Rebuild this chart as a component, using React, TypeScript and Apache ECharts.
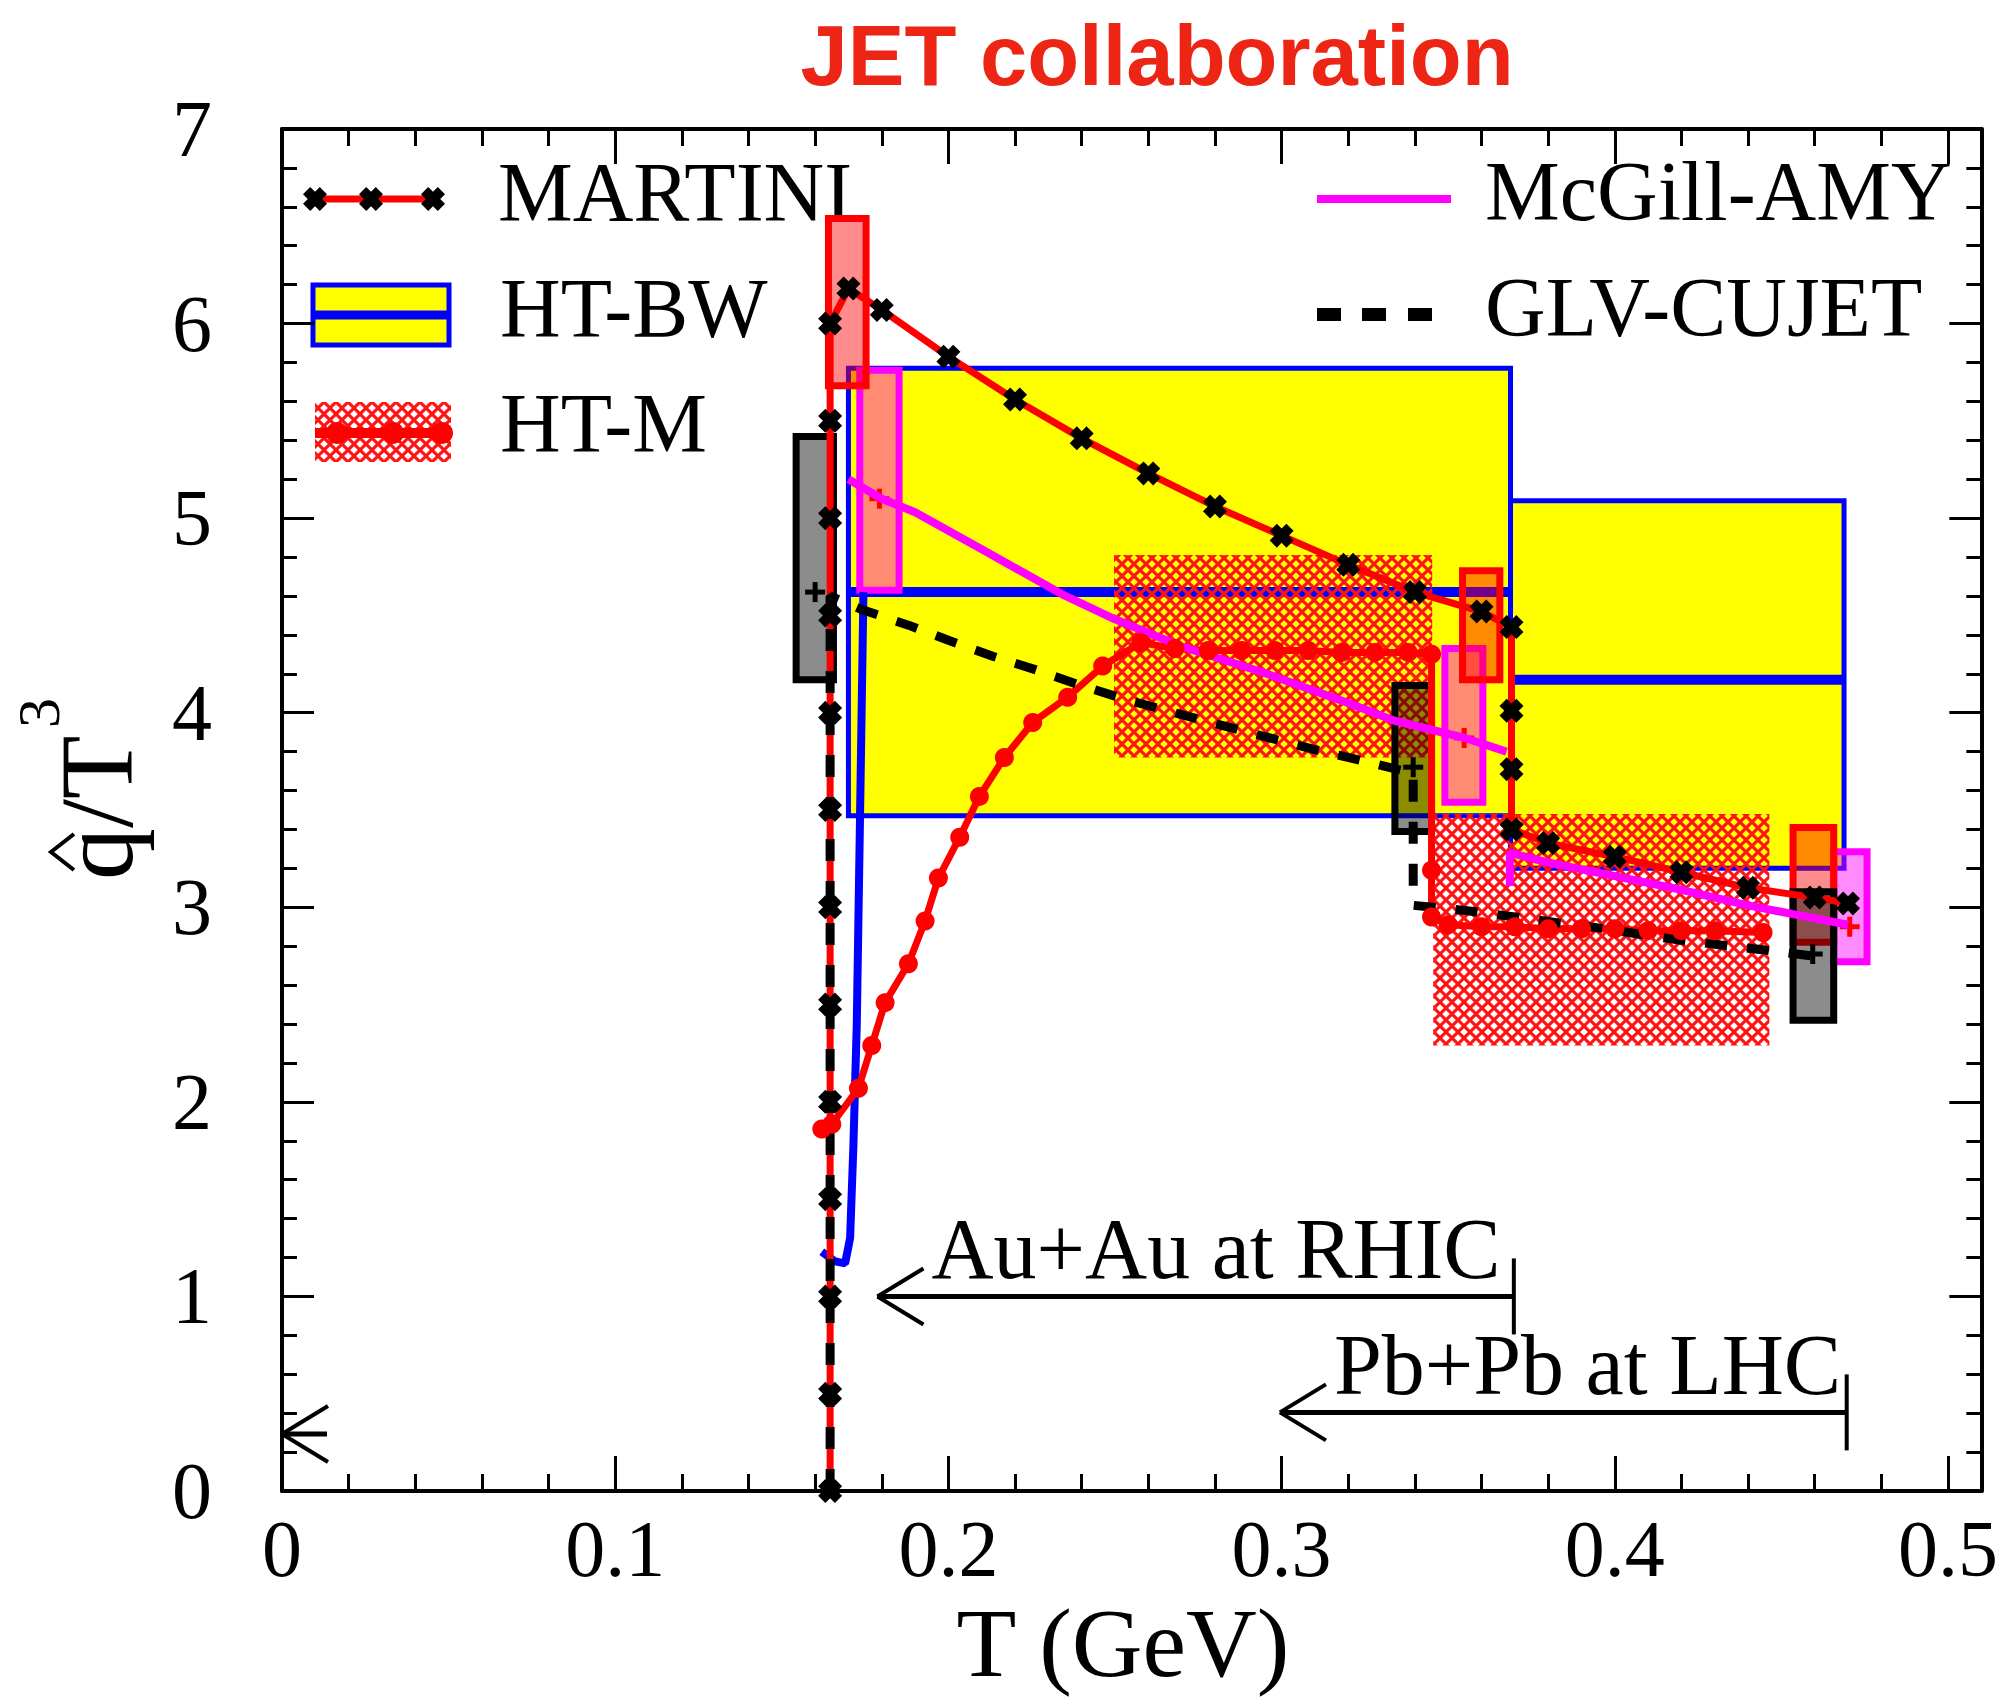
import React, { useEffect, useRef } from "react";
import * as echarts from "echarts";

// ---------------- data ----------------
const X_TICKS = [0, 0.1, 0.2, 0.3, 0.4, 0.5];
const Y_TICKS = [0, 1, 2, 3, 4, 5, 6, 7];

// MARTINI (red line, black X markers)
const MARTINI_T = [0.1645, 0.1645, 0.1645, 0.1645, 0.1645, 0.1645, 0.1645, 0.1645, 0.1645, 0.1645, 0.1645, 0.1645, 0.1645,
  0.170, 0.180, 0.200, 0.220, 0.240, 0.260, 0.280, 0.300, 0.320, 0.340, 0.360, 0.369, 0.369, 0.369, 0.369,
  0.380, 0.400, 0.420, 0.440, 0.460, 0.470];
const MARTINI_Q = [0, 0.5, 1, 1.5, 2, 2.5, 3, 3.5, 4, 4.5, 5, 5.5, 6.0,
  6.18, 6.07, 5.83, 5.61, 5.41, 5.23, 5.06, 4.91, 4.76, 4.62, 4.52, 4.44, 4.01, 3.71, 3.40,
  3.33, 3.26, 3.18, 3.10, 3.05, 3.02];

// HT-M (red line with circles)
const HTM_T = [0.162, 0.165, 0.173, 0.177, 0.181, 0.188, 0.193, 0.197, 0.2034, 0.2093, 0.2168, 0.2253, 0.2358, 0.2463, 0.2577,
  0.268, 0.278, 0.288, 0.298, 0.308, 0.318, 0.328, 0.338, 0.345, 0.345, 0.345,
  0.350, 0.360, 0.370, 0.380, 0.390, 0.400, 0.410, 0.420, 0.430, 0.4445];
const HTM_Q = [1.86, 1.885, 2.07, 2.29, 2.51, 2.71, 2.93, 3.15, 3.36, 3.57, 3.77, 3.95, 4.08, 4.24, 4.36,
  4.33, 4.32, 4.32, 4.32, 4.32, 4.31, 4.31, 4.31, 4.30, 3.19, 2.95,
  2.91, 2.90, 2.90, 2.89, 2.89, 2.89, 2.88, 2.88, 2.88, 2.87];

// HT-BW curve (blue)
const HTBW_T = [0.162, 0.166, 0.169, 0.1705, 0.1715, 0.1725, 0.1735, 0.1745];
const HTBW_Q = [1.23, 1.18, 1.17, 1.30, 1.78, 2.40, 3.49, 4.62];

// HT-BW bands (yellow boxes): T range, q range, central value
const BW_T0 = [0.170, 0.3687];
const BW_T1 = [0.3687, 0.4688];
const BW_LO = [3.47, 3.20];
const BW_HI = [5.77, 5.09];
const BW_MID = [4.62, 4.17];

// HT-M hatched bands
const HATCH_T0 = [0.2497, 0.3455];
const HATCH_T1 = [0.3452, 0.4464];
const HATCH_LO = [3.77, 2.29];
const HATCH_HI = [4.81, 3.48];

// McGill-AMY (magenta)
const MCGILL_RHIC_T = [0.170, 0.180, 0.190, 0.210, 0.234, 0.250, 0.270, 0.2956, 0.320, 0.3337, 0.355, 0.3675];
const MCGILL_RHIC_Q = [5.20, 5.10, 5.03, 4.84, 4.61, 4.48, 4.34, 4.20, 4.05, 3.96, 3.87, 3.80];
const MCGILL_LHC_T = [0.3685, 0.3685, 0.380, 0.400, 0.420, 0.440, 0.455, 0.470];
const MCGILL_LHC_Q = [3.11, 3.28, 3.23, 3.16, 3.09, 3.01, 2.96, 2.91];

// GLV-CUJET (black dashed)
const GLV_T = [0.1645, 0.1645, 0.174, 0.188, 0.2004, 0.2133, 0.2263, 0.2398, 0.2528, 0.2657, 0.2787, 0.2921, 0.310, 0.325,
  0.3368, 0.3395, 0.3395, 0.357, 0.370, 0.383, 0.397, 0.408, 0.420, 0.435, 0.450, 0.459];
const GLV_Q = [0, 4.60, 4.53, 4.45, 4.37, 4.29, 4.22, 4.14, 4.07, 4.01, 3.95, 3.89, 3.81, 3.75,
  3.70, 3.69, 3.01, 2.98, 2.95, 2.92, 2.89, 2.86, 2.83, 2.80, 2.77, 2.75];

// error boxes (kind: 0 McGill-AMY, 1 MARTINI, 2 GLV-CUJET)
const ERR_T0 = [0.1734, 0.349, 0.4657, 0.164, 0.3543, 0.4535, 0.1543, 0.334, 0.4535];
const ERR_T1 = [0.1852, 0.3604, 0.4757, 0.1753, 0.3655, 0.4657, 0.1655, 0.345, 0.4657];
const ERR_LO = [4.63, 3.54, 2.72, 5.68, 4.17, 2.82, 4.17, 3.39, 2.42];
const ERR_HI = [5.76, 4.33, 3.285, 6.54, 4.73, 3.41, 5.42, 4.14, 3.08];
const ERR_KIND = [0, 0, 0, 1, 1, 1, 2, 2, 2];

// central "+" markers in boxes
const CROSS_T = [0.1793, 0.3548, 0.4705, 0.160, 0.3395, 0.4594];
const CROSS_Q = [5.10, 3.87, 2.90, 4.62, 3.72, 2.76];
const CROSS_KIND = [0, 0, 0, 2, 2, 2];

// annotation arrows
const ARROW_TIP_T = [0.1787, 0.2995, 0.0];
const ARROW_END_T = [0.3697, 0.4696, 0.0135];
const ARROW_Q = [1.0, 0.404, 0.293];
const ARROW_LABEL = ["Au+Au at RHIC", "Pb+Pb at LHC", ""];
const ARROW_BAR = [1, 1, 0];

// ---------------- styling helpers ----------------
const SERIF = '"Liberation Serif", "Times New Roman", serif';
const SANS = '"Liberation Sans", Arial, sans-serif';
const XMARK = [[0, 3], [3, 0], [5, 2], [7, 0], [10, 3], [8, 5], [10, 7], [7, 10], [5, 8], [3, 10], [0, 7], [2, 5]];
const XMARK_PATH = "path://M0,3L3,0L5,2L7,0L10,3L8,5L10,7L7,10L5,8L3,10L0,7L2,5Z";
const ERR_STROKE = ["#ff00ff", "#ff0000", "#000000"];
const ERR_FILL = ["rgba(255,0,255,0.45)", "rgba(255,0,0,0.45)", "rgba(0,0,0,0.45)"];
const CROSS_COLOR = ["#ff0000", "#ff0000", "#000000"];

function zip(a: number[], b: number[]) {
  return a.map((v, i) => [v, b[i]]);
}

// red cross-hatch (±45° lines, diamond holes)
function makeHatch() {
  const a = 12;
  const r = 3.8;
  const c = document.createElement("canvas");
  c.width = a;
  c.height = a;
  const ctx = c.getContext("2d")!;
  ctx.fillStyle = "#ff1212";
  ctx.fillRect(0, 0, a, a);
  ctx.globalCompositeOperation = "destination-out";
  const holes = [[0, 0], [a, 0], [0, a], [a, a], [a / 2, a / 2]];
  for (const [hx, hy] of holes) {
    ctx.beginPath();
    ctx.moveTo(hx, hy - r);
    ctx.lineTo(hx + r, hy);
    ctx.lineTo(hx, hy + r);
    ctx.lineTo(hx - r, hy);
    ctx.closePath();
    ctx.fill();
  }
  return { image: c, repeat: "repeat", imageWidth: a, imageHeight: a } as any;
}

function xmarkPts(cx: number, cy: number, size: number) {
  const k = size / 10;
  return XMARK.map((p) => [cx - size / 2 + p[0] * k, cy - size / 2 + p[1] * k]);
}

export default function App() {
  const ref = useRef<HTMLDivElement>(null);

  useEffect(() => {
    const el = ref.current;
    if (!el) return;
    const chart = echarts.init(el, null, { renderer: "svg" });
    const hatch = makeHatch();

    const axisLineStyle = { color: "#000", width: 4 };
    const tickStyle = { color: "#000", width: 3 };
    const baseX: any = { type: "value", min: 0, max: 0.51, splitLine: { show: false } };
    const baseY: any = { type: "value", min: 0, max: 7, splitLine: { show: false } };
    const fmtX = (v: number) => {
      const r = Math.round(v * 10) / 10;
      return X_TICKS.some((t) => Math.abs(t - v) < 1e-6) ? String(r) : "";
    };
    const fmtY = (v: number) => (Y_TICKS.some((t) => Math.abs(t - v) < 1e-6) ? String(Math.round(v)) : "");

    const rectFrom = (api: any, t0: number, t1: number, lo: number, hi: number) => {
      const a = api.coord([t0, hi]);
      const b = api.coord([t1, lo]);
      return { x: a[0], y: a[1], width: b[0] - a[0], height: b[1] - a[1] };
    };

    const legendText = (text: string, x: number, y: number) => ({
      type: "text",
      x,
      y,
      style: {
        text,
        font: `84px ${SERIF}`,
        fill: "#000",
        textAlign: "left",
        textVerticalAlign: "middle",
        align: "left",
        verticalAlign: "middle",
      },
    });

    const option: any = {
      animation: false,
      backgroundColor: "#ffffff",
      grid: { left: 282, top: 129, width: 1704, height: 1362, containLabel: false },
      xAxis: [
        {
          ...baseX,
          position: "bottom",
          interval: 0.1,
          axisLine: { show: true, onZero: false, lineStyle: axisLineStyle },
          axisTick: { show: true, inside: true, length: 35, lineStyle: tickStyle },
          axisLabel: {
            show: true,
            margin: 18,
            fontFamily: SERIF,
            fontSize: 80,
            color: "#000",
            showMaxLabel: false,
            formatter: fmtX,
          },
        },
        {
          ...baseX,
          position: "bottom",
          interval: 0.02,
          axisLine: { show: false, onZero: false },
          axisTick: { show: true, inside: true, length: 17, lineStyle: tickStyle },
          axisLabel: { show: false },
        },
        {
          ...baseX,
          position: "top",
          interval: 0.1,
          axisLine: { show: true, onZero: false, lineStyle: axisLineStyle },
          axisTick: { show: true, inside: true, length: 35, lineStyle: tickStyle },
          axisLabel: { show: false },
        },
        {
          ...baseX,
          position: "top",
          interval: 0.02,
          axisLine: { show: false, onZero: false },
          axisTick: { show: true, inside: true, length: 17, lineStyle: tickStyle },
          axisLabel: { show: false },
        },
      ],
      yAxis: [
        {
          ...baseY,
          position: "left",
          interval: 1,
          axisLine: { show: true, onZero: false, lineStyle: axisLineStyle },
          axisTick: { show: true, inside: true, length: 32, lineStyle: tickStyle },
          axisLabel: { show: true, margin: 70, fontFamily: SERIF, fontSize: 80, color: "#000", formatter: fmtY },
        },
        {
          ...baseY,
          position: "left",
          interval: 0.2,
          axisLine: { show: false, onZero: false },
          axisTick: { show: true, inside: true, length: 15, lineStyle: tickStyle },
          axisLabel: { show: false },
        },
        {
          ...baseY,
          position: "right",
          interval: 1,
          axisLine: { show: true, onZero: false, lineStyle: axisLineStyle },
          axisTick: { show: true, inside: true, length: 32, lineStyle: tickStyle },
          axisLabel: { show: false },
        },
        {
          ...baseY,
          position: "right",
          interval: 0.2,
          axisLine: { show: false, onZero: false },
          axisTick: { show: true, inside: true, length: 15, lineStyle: tickStyle },
          axisLabel: { show: false },
        },
      ],
      series: [
        // HT-BW yellow bands
        {
          type: "custom",
          name: "HT-BW band",
          silent: true,
          coordinateSystem: "cartesian2d",
          encode: { x: [0, 1], y: [2, 3] },
          data: BW_T0.map((t, i) => [t, BW_T1[i], BW_LO[i], BW_HI[i], BW_MID[i]]),
          renderItem: (params: any, api: any) => {
            const r = rectFrom(api, api.value(0), api.value(1), api.value(2), api.value(3));
            const m0 = api.coord([api.value(0), api.value(4)]);
            const m1 = api.coord([api.value(1), api.value(4)]);
            return {
              type: "group",
              children: [
                { type: "rect", shape: r, style: { fill: "#ffff00", stroke: "#0000ff", lineWidth: 5 } },
                {
                  type: "line",
                  shape: { x1: m0[0], y1: m0[1], x2: m1[0], y2: m1[1] },
                  style: { stroke: "#0000ff", lineWidth: 10 },
                },
              ],
            };
          },
        },
        // HT-M hatched bands
        {
          type: "custom",
          name: "HT-M band",
          silent: true,
          coordinateSystem: "cartesian2d",
          encode: { x: [0, 1], y: [2, 3] },
          data: HATCH_T0.map((t, i) => [t, HATCH_T1[i], HATCH_LO[i], HATCH_HI[i]]),
          renderItem: (params: any, api: any) => ({
            type: "rect",
            shape: rectFrom(api, api.value(0), api.value(1), api.value(2), api.value(3)),
            style: { fill: hatch },
          }),
        },
        // HT-BW curve
        {
          type: "line",
          name: "HT-BW",
          silent: true,
          data: zip(HTBW_T, HTBW_Q),
          showSymbol: false,
          lineStyle: { color: "#0000ff", width: 8 },
          itemStyle: { color: "#0000ff" },
        },
        // HT-M curve
        {
          type: "line",
          name: "HT-M",
          silent: true,
          data: zip(HTM_T, HTM_Q),
          symbol: "circle",
          symbolSize: 19,
          lineStyle: { color: "#ff0000", width: 7 },
          itemStyle: { color: "#ff0000", borderWidth: 0 },
        },
        // McGill-AMY
        {
          type: "line",
          name: "McGill-AMY",
          silent: true,
          data: zip(MCGILL_RHIC_T, MCGILL_RHIC_Q),
          showSymbol: false,
          lineStyle: { color: "#ff00ff", width: 8 },
          itemStyle: { color: "#ff00ff" },
        },
        {
          type: "line",
          name: "McGill-AMY LHC",
          silent: true,
          data: zip(MCGILL_LHC_T, MCGILL_LHC_Q),
          showSymbol: false,
          lineStyle: { color: "#ff00ff", width: 8 },
          itemStyle: { color: "#ff00ff" },
        },
        // MARTINI
        {
          type: "line",
          name: "MARTINI",
          silent: true,
          data: zip(MARTINI_T, MARTINI_Q),
          symbol: XMARK_PATH,
          symbolSize: 24,
          lineStyle: { color: "#ff0000", width: 7 },
          itemStyle: { color: "#000000", borderWidth: 0 },
        },
        // GLV-CUJET
        {
          type: "line",
          name: "GLV-CUJET",
          silent: true,
          data: zip(GLV_T, GLV_Q),
          showSymbol: false,
          lineStyle: { color: "#000000", width: 9, type: [22, 20], cap: "butt" },
          itemStyle: { color: "#000000" },
        },
        // error boxes
        {
          type: "custom",
          name: "errors",
          silent: true,
          coordinateSystem: "cartesian2d",
          encode: { x: [0, 1], y: [2, 3] },
          data: ERR_T0.map((t, i) => [t, ERR_T1[i], ERR_LO[i], ERR_HI[i], ERR_KIND[i]]),
          renderItem: (params: any, api: any) => {
            const k = api.value(4);
            return {
              type: "rect",
              shape: rectFrom(api, api.value(0), api.value(1), api.value(2), api.value(3)),
              style: { fill: ERR_FILL[k], stroke: ERR_STROKE[k], lineWidth: 7 },
            };
          },
        },
        // central markers
        {
          type: "custom",
          name: "centers",
          silent: true,
          coordinateSystem: "cartesian2d",
          encode: { x: 0, y: 1 },
          data: CROSS_T.map((t, i) => [t, CROSS_Q[i], CROSS_KIND[i]]),
          renderItem: (params: any, api: any) => {
            const p = api.coord([api.value(0), api.value(1)]);
            const c = CROSS_COLOR[api.value(2)];
            const s = 10;
            return {
              type: "group",
              children: [
                { type: "line", shape: { x1: p[0] - s, y1: p[1], x2: p[0] + s, y2: p[1] }, style: { stroke: c, lineWidth: 5 } },
                { type: "line", shape: { x1: p[0], y1: p[1] - s, x2: p[0], y2: p[1] + s }, style: { stroke: c, lineWidth: 5 } },
              ],
            };
          },
        },
        // annotation arrows
        {
          type: "custom",
          name: "arrows",
          silent: true,
          coordinateSystem: "cartesian2d",
          encode: { x: [0, 1], y: 2 },
          data: ARROW_TIP_T.map((t, i) => [t, ARROW_END_T[i], ARROW_Q[i]]),
          renderItem: (params: any, api: any) => {
            const i = params.dataIndex;
            const tip = api.coord([api.value(0), api.value(2)]);
            const end = api.coord([api.value(1), api.value(2)]);
            const children: any[] = [
              { type: "line", shape: { x1: tip[0], y1: tip[1], x2: end[0], y2: end[1] }, style: { stroke: "#000", lineWidth: 5 } },
              { type: "line", shape: { x1: tip[0], y1: tip[1], x2: tip[0] + 46, y2: tip[1] - 28 }, style: { stroke: "#000", lineWidth: 4 } },
              { type: "line", shape: { x1: tip[0], y1: tip[1], x2: tip[0] + 46, y2: tip[1] + 28 }, style: { stroke: "#000", lineWidth: 4 } },
            ];
            if (ARROW_BAR[i]) {
              children.push({
                type: "line",
                shape: { x1: end[0], y1: end[1] - 38, x2: end[0], y2: end[1] + 38 },
                style: { stroke: "#000", lineWidth: 4 },
              });
            }
            if (ARROW_LABEL[i]) {
              children.push({
                type: "text",
                x: tip[0] + 54,
                y: tip[1] - 47,
                style: {
                  text: ARROW_LABEL[i],
                  font: `86px ${SERIF}`,
                  fill: "#000",
                  textAlign: "left",
                  textVerticalAlign: "middle",
                  align: "left",
                  verticalAlign: "middle",
                },
              });
            }
            return { type: "group", children };
          },
        },
      ],
      graphic: [
        // title
        {
          type: "text",
          x: 1157,
          y: 55,
          style: {
            text: "JET collaboration",
            font: `bold 85px ${SANS}`,
            fill: "#ec2514",
            textAlign: "center",
            textVerticalAlign: "middle",
            align: "center",
            verticalAlign: "middle",
          },
        },
        // x axis title
        {
          type: "text",
          x: 1123,
          y: 1643,
          style: {
            text: "T (GeV)",
            font: `98px ${SERIF}`,
            fill: "#000",
            textAlign: "center",
            textVerticalAlign: "middle",
            align: "center",
            verticalAlign: "middle",
          },
        },
        // y axis title (rotated)
        {
          type: "group",
          x: 131,
          y: 880,
          rotation: Math.PI / 2,
          children: [
            {
              type: "text",
              x: 0,
              y: -35,
              style: {
                text: "q/T",
                font: `104px ${SERIF}`,
                fill: "#000",
                textAlign: "left",
                textVerticalAlign: "middle",
                align: "left",
                verticalAlign: "middle",
              },
            },
            {
              type: "text",
              x: 152,
              y: -92,
              style: {
                text: "3",
                font: `60px ${SERIF}`,
                fill: "#000",
                textAlign: "left",
                textVerticalAlign: "middle",
                align: "left",
                verticalAlign: "middle",
              },
            },
            {
              type: "polyline",
              shape: { points: [[10, -57], [28, -80], [46, -57]] },
              style: { stroke: "#000", lineWidth: 4, fill: null },
            },
          ],
        },
        // legend: MARTINI
        { type: "line", shape: { x1: 308, y1: 199, x2: 440, y2: 199 }, style: { stroke: "#ff0000", lineWidth: 7 } },
        { type: "polygon", shape: { points: xmarkPts(315, 199, 24) }, style: { fill: "#000" } },
        { type: "polygon", shape: { points: xmarkPts(371, 199, 24) }, style: { fill: "#000" } },
        { type: "polygon", shape: { points: xmarkPts(433, 199, 24) }, style: { fill: "#000" } },
        legendText("MARTINI", 498, 192),
        // legend: HT-BW
        { type: "rect", shape: { x: 313, y: 285, width: 136, height: 60 }, style: { fill: "#ffff00", stroke: "#0000ff", lineWidth: 5 } },
        { type: "line", shape: { x1: 313, y1: 315, x2: 449, y2: 315 }, style: { stroke: "#0000ff", lineWidth: 9 } },
        legendText("HT-BW", 500, 308),
        // legend: HT-M
        { type: "rect", shape: { x: 315, y: 402, width: 136, height: 60 }, style: { fill: hatch } },
        { type: "line", shape: { x1: 315, y1: 433, x2: 451, y2: 433 }, style: { stroke: "#ff0000", lineWidth: 10 } },
        { type: "circle", shape: { cx: 337, cy: 433, r: 11 }, style: { fill: "#ff0000" } },
        { type: "circle", shape: { cx: 393, cy: 433, r: 11 }, style: { fill: "#ff0000" } },
        { type: "circle", shape: { cx: 442, cy: 433, r: 11 }, style: { fill: "#ff0000" } },
        legendText("HT-M", 500, 423),
        // legend: McGill-AMY
        { type: "line", shape: { x1: 1317, y1: 199, x2: 1451, y2: 199 }, style: { stroke: "#ff00ff", lineWidth: 8 } },
        legendText("McGill-AMY", 1485, 191),
        // legend: GLV-CUJET
        { type: "rect", shape: { x: 1317, y: 308, width: 24, height: 13 }, style: { fill: "#000" } },
        { type: "rect", shape: { x: 1362, y: 308, width: 24, height: 13 }, style: { fill: "#000" } },
        { type: "rect", shape: { x: 1408, y: 308, width: 24, height: 13 }, style: { fill: "#000" } },
        legendText("GLV-CUJET", 1485, 307),
      ],
    };

    chart.setOption(option);
    return () => chart.dispose();
  }, []);

  return (
    <div
      ref={ref}
      style={{ position: "fixed", left: 0, top: 0, width: 2001, height: 1702, background: "#fff" }}
    />
  );
}
